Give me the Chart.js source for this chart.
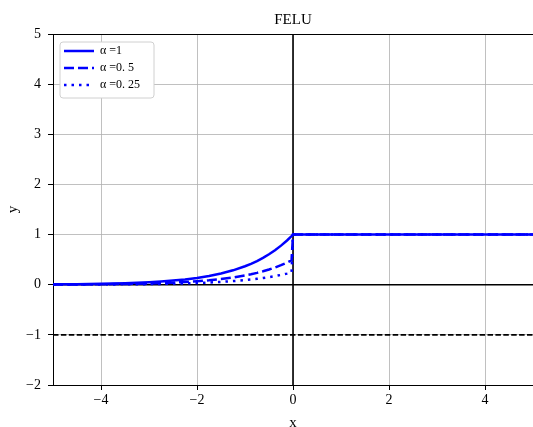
<!DOCTYPE html>
<html>
<head>
<meta charset="utf-8">
<script src="https://cdn.jsdelivr.net/npm/chart.js@4/dist/chart.umd.min.js"></script>
<style>
html,body{margin:0;padding:0;background:#fff;}
#wrap{width:533px;height:427px;position:relative;}
</style>
</head>
<body>
<div id="wrap"><canvas id="c" width="533" height="427"></canvas></div>
<script>
// ---- data ----
const chartTitle = 'FELU';
const xLabel = 'x';
const yLabel = 'y';
const xTicks = [-4, -2, 0, 2, 4];
const yTicks = [-2, -1, 0, 1, 2, 3, 4, 5];
const xRange = [-5, 5];
const yRange = [-2, 5];

const xs = [-5, -4.75, -4.5, -4.25, -4, -3.75, -3.5, -3.25, -3, -2.75, -2.5, -2.25, -2, -1.75, -1.5, -1.25, -1, -0.875, -0.75, -0.625, -0.5, -0.375, -0.25, -0.125, -0.03, 0, 5];
const seriesLabels = ['α =1', 'α =0. 5', 'α =0. 25'];
const alpha1   = [0.007, 0.009, 0.011, 0.014, 0.018, 0.024, 0.030, 0.039, 0.050, 0.064, 0.082, 0.105, 0.135, 0.174, 0.223, 0.287, 0.368, 0.417, 0.472, 0.535, 0.607, 0.687, 0.779, 0.882, 0.970, 1, 1];
const alpha05  = [0.003, 0.004, 0.006, 0.007, 0.009, 0.012, 0.015, 0.019, 0.025, 0.032, 0.041, 0.053, 0.068, 0.087, 0.112, 0.143, 0.184, 0.208, 0.236, 0.268, 0.303, 0.344, 0.389, 0.441, 0.485, 1, 1];
const alpha025 = [0.002, 0.002, 0.003, 0.004, 0.005, 0.006, 0.008, 0.010, 0.012, 0.016, 0.021, 0.026, 0.034, 0.043, 0.056, 0.072, 0.092, 0.104, 0.118, 0.134, 0.152, 0.172, 0.195, 0.221, 0.243, 1, 1];

const vLineX = [0, 0];      const vLineY = [-2, 5];
const hLineX = [-5, 5];     const hLineY = [0, 0];
const dLineX = [-5, 5];     const dLineY = [-1, -1];

// ---- build ----
const pts = (X, Y) => X.map((x, i) => ({x: x, y: Y[i]}));
const FONT = "'Liberation Serif', 'DejaVu Serif', serif";
const minus = v => String(v).replace('-', '\u2212');

const blue = '#0000ff';
const datasets = [
  {label: seriesLabels[0], data: pts(xs, alpha1), borderColor: blue, backgroundColor: blue, borderWidth: 2.5, borderDash: []},
  {label: seriesLabels[1], data: pts(xs, alpha05), borderColor: blue, backgroundColor: blue, borderWidth: 2.5, borderDash: [10, 4]},
  {label: seriesLabels[2], data: pts(xs, alpha025), borderColor: blue, backgroundColor: blue, borderWidth: 2.5, borderDash: [2.5, 5]},
  {label: '_v', data: pts(vLineX, vLineY), borderColor: '#000', borderWidth: 1.6},
  {label: '_h', data: pts(hLineX, hLineY), borderColor: '#000', borderWidth: 1.6},
  {label: '_d', data: pts(dLineX, dLineY), borderColor: '#000', borderWidth: 1.6, borderDash: [5.5, 2.4]}
].map(d => Object.assign({showLine: true, pointRadius: 0, pointHoverRadius: 0, fill: false, tension: 0}, d));

const legendFrame = {
  id: 'legendFrame',
  beforeDraw(chart) {
    const lg = chart.legend;
    lg.left = chart.chartArea.left + 6;
    lg.top = chart.chartArea.top + 6;
  },
  beforeDatasetsDraw(chart) {
    const lg = chart.legend;
    const ctx = chart.ctx;
    const x = lg.left + 1, y = lg.top + 2, w = 94, h = 56, r = 3;
    ctx.save();
    ctx.beginPath();
    ctx.moveTo(x + r, y);
    ctx.arcTo(x + w, y, x + w, y + h, r);
    ctx.arcTo(x + w, y + h, x, y + h, r);
    ctx.arcTo(x, y + h, x, y, r);
    ctx.arcTo(x, y, x + w, y, r);
    ctx.closePath();
    ctx.fillStyle = '#ffffff';
    ctx.fill();
    ctx.strokeStyle = '#d0d0d0';
    ctx.lineWidth = 1;
    ctx.stroke();
    ctx.restore();
    lg.draw(chart.chartArea);
  }
};

new Chart(document.getElementById('c'), {
  type: 'scatter',
  data: {datasets: datasets},
  options: {
    responsive: false,
    animation: false,
    events: [],
    layout: {padding: {left: 0, right: 0, top: 0, bottom: 0}},
    plugins: {
      tooltip: {enabled: false},
      title: {
        display: true, text: chartTitle, color: '#000', fullSize: false,
        font: {family: FONT, size: 15, weight: 'normal'},
        padding: {top: 11, bottom: 5}
      },
      legend: {
        display: true, position: 'chartArea', align: 'start',
        labels: {
          filter: item => !item.text.startsWith('_'),
          generateLabels: chart => {
            const items = Chart.defaults.plugins.legend.labels.generateLabels(chart);
            items.forEach(it => {
              const ds = chart.data.datasets[it.datasetIndex];
              it.lineDash = ds.borderDash || [];
              it.lineWidth = ds.borderWidth;
              it.strokeStyle = ds.borderColor;
              it.pointStyle = 'line';
            });
            return items;
          },
          usePointStyle: true, pointStyle: 'line', pointStyleWidth: 30, boxHeight: 12,
          padding: 5, color: '#000',
          font: {family: FONT, size: 12}
        }
      }
    },
    scales: {
      x: {
        type: 'linear', min: xRange[0], max: xRange[1],
        afterBuildTicks: s => { s.ticks = xTicks.map(v => ({value: v})); },
        afterFit: s => { s.height = 42; },
        grid: {color: '#b0b0b0', lineWidth: 0.8, tickColor: '#000', tickLength: 5, tickWidth: 1},
        border: {color: '#000', width: 1},
        ticks: {color: '#000', font: {family: FONT, size: 14}, padding: 2, maxRotation: 0, callback: v => minus(v)},
        title: {display: true, text: xLabel, color: '#000', font: {family: FONT, size: 15}, padding: {top: 0, bottom: -5}}
      },
      y: {
        type: 'linear', min: yRange[0], max: yRange[1],
        afterBuildTicks: s => { s.ticks = yTicks.map(v => ({value: v})); },
        afterFit: s => { s.width = 53; },
        grid: {
          color: c => (c.tick && c.tick.value === yRange[1]) ? '#000' : '#b0b0b0',
          lineWidth: c => (c.tick && c.tick.value === yRange[1]) ? 1 : 0.8,
          tickColor: '#000', tickLength: 5, tickWidth: 1
        },
        border: {color: '#000', width: 1},
        ticks: {color: '#000', font: {family: FONT, size: 14}, padding: 7, callback: v => minus(v)},
        title: {display: true, text: yLabel, color: '#000', font: {family: FONT, size: 15}, padding: {top: 4, bottom: 0}}
      }
    }
  },
  plugins: [legendFrame]
});
</script>
</body>
</html>
